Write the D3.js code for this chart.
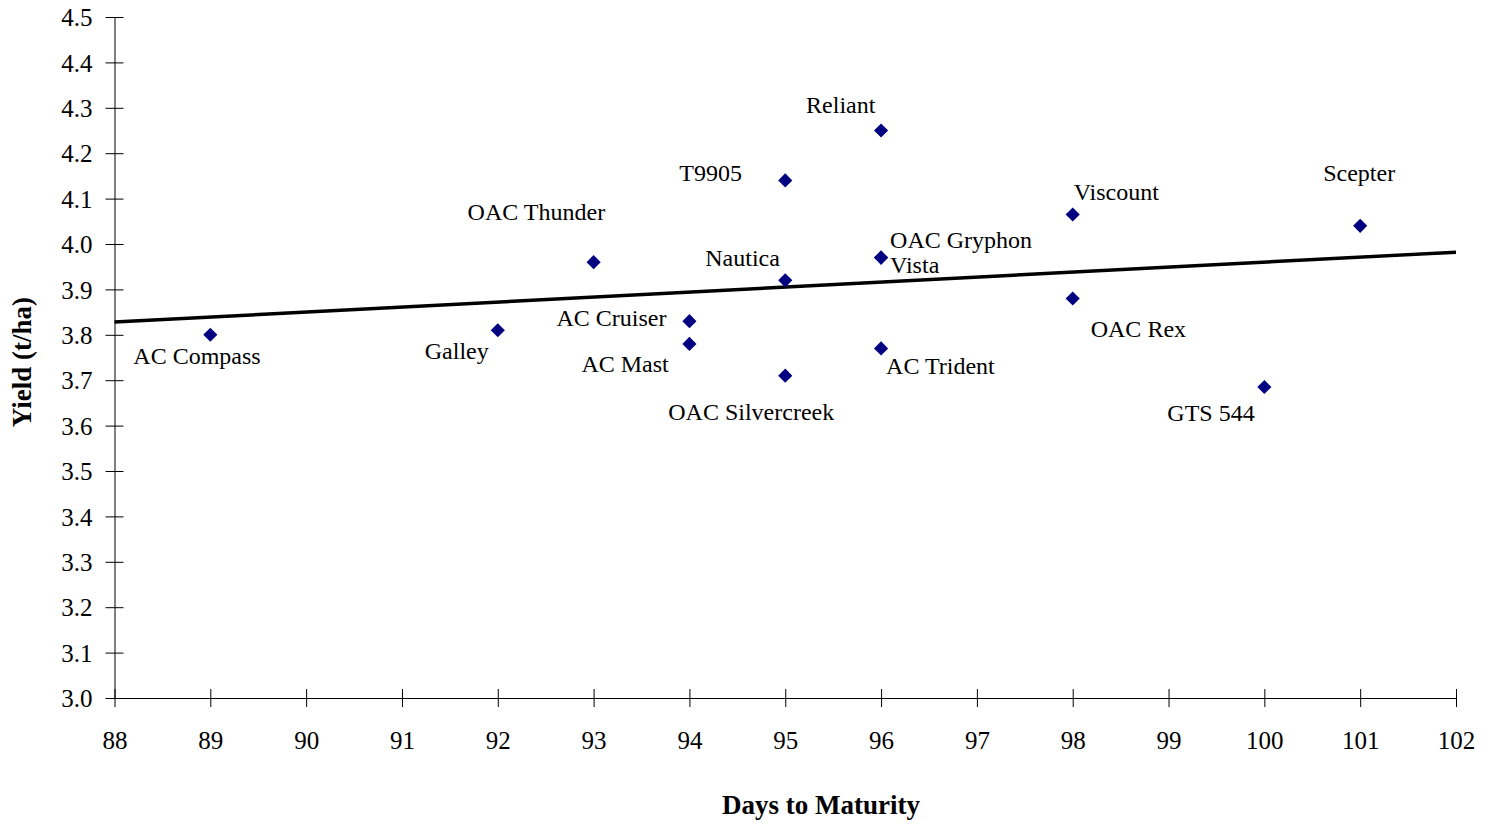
<!DOCTYPE html>
<html><head><meta charset="utf-8">
<script src="https://cdn.jsdelivr.net/npm/d3@7"></script>
<style>body{margin:0;background:#fff}svg{display:block}</style>
</head><body><svg id="c" width="1496" height="824"></svg>
<script>
const varieties = ["AC Compass","Galley","OAC Thunder","AC Cruiser","AC Mast","T9905","Nautica","OAC Silvercreek","Reliant","OAC Gryphon","Vista","AC Trident","Viscount","OAC Rex","GTS 544","Scepter"];
const days =      [89, 92, 93, 94, 94, 95, 95, 95, 96, 96, 96, 96, 98, 98, 100, 101];
const yields =    [3.80, 3.81, 3.96, 3.83, 3.78, 4.14, 3.92, 3.71, 4.25, 3.97, 3.97, 3.77, 4.065, 3.88, 3.685, 4.04];
const trendDays = [88, 102];
const trendYield = [3.828, 3.982];
const xTicks = [88,89,90,91,92,93,94,95,96,97,98,99,100,101,102];
const yTicks = [3.0,3.1,3.2,3.3,3.4,3.5,3.6,3.7,3.8,3.9,4.0,4.1,4.2,4.3,4.4,4.5];

// label placement (layout only): text start offset from point
const labelOffsets = [[-77,29],[-73,29],[-126,-42],[-133,5],[-108,28],[-106,1],[-80,-14],[-117,44],[-75,-18],[9,-10],[9,15],[5,26],[1,-14],[18,39],[-97,34],[-37,-45]];

const FONT = "'Liberation Serif','Times New Roman',serif";
const svg = d3.select("#c");
const x = d3.scaleLinear().domain([88,102]).range([114.5,1456]);
const y = d3.scaleLinear().domain([3.0,4.5]).range([698,17]);

const gx = svg.append("g").attr("transform","translate(0,698)")
  .call(d3.axisBottom(x).tickValues(xTicks).tickFormat(d3.format("d")).tickSize(0).tickPadding(0))
  .attr("font-family",FONT).attr("font-size",25);
gx.select(".domain").attr("stroke","#000").attr("stroke-width",1);
gx.selectAll(".tick line").remove();
gx.selectAll(".tick").append("line").attr("y1",-9).attr("y2",9).attr("stroke","#000");
gx.selectAll(".tick text").attr("y",51).attr("dy",0).attr("fill","#000")
  .style("font-family",FONT).style("font-size","25px");

const gy = svg.append("g").attr("transform","translate(114.5,0)")
  .call(d3.axisLeft(y).tickValues(yTicks).tickFormat(d3.format(".1f")).tickSize(0).tickPadding(0))
  .attr("font-family",FONT).attr("font-size",25);
gy.select(".domain").attr("stroke","#000").attr("stroke-width",1);
gy.selectAll(".tick line").remove();
gy.selectAll(".tick").append("line").attr("x1",-9).attr("x2",9).attr("stroke","#000");
gy.selectAll(".tick text").attr("x",-22).attr("dy","0.35em").attr("fill","#000")
  .style("font-family",FONT).style("font-size","25px");

svg.append("path")
  .datum(trendDays.map((d,i)=>[d,trendYield[i]]))
  .attr("d", d3.line().x(d=>x(d[0])).y(d=>y(d[1])))
  .attr("stroke","#000").attr("stroke-width",3.5).attr("fill","none");

const pts = varieties.map((v,i)=>({name:v,d:days[i],y:yields[i],off:labelOffsets[i]}));
svg.append("g").selectAll("path").data(pts).join("path")
  .attr("d", d3.symbol().type(d3.symbolSquare).size(100))
  .attr("transform", d=>`translate(${x(d.d)},${y(d.y)}) rotate(45)`)
  .attr("fill","#000080");

svg.append("g").selectAll("text").data(pts).join("text")
  .attr("x", d=>x(d.d)+d.off[0]).attr("y", d=>y(d.y)+d.off[1])
  .style("font-family",FONT).style("font-size","24px").attr("fill","#000").text(d=>d.name);

svg.append("text").attr("x",821).attr("y",814).attr("text-anchor","middle")
  .style("font-family",FONT).style("font-size","27px").style("font-weight","bold").text("Days to Maturity");
svg.append("text").attr("transform","translate(31,362) rotate(-90)").attr("text-anchor","middle")
  .style("font-family",FONT).style("font-size","27px").style("font-weight","bold").text("Yield (t/ha)");
</script></body></html>
